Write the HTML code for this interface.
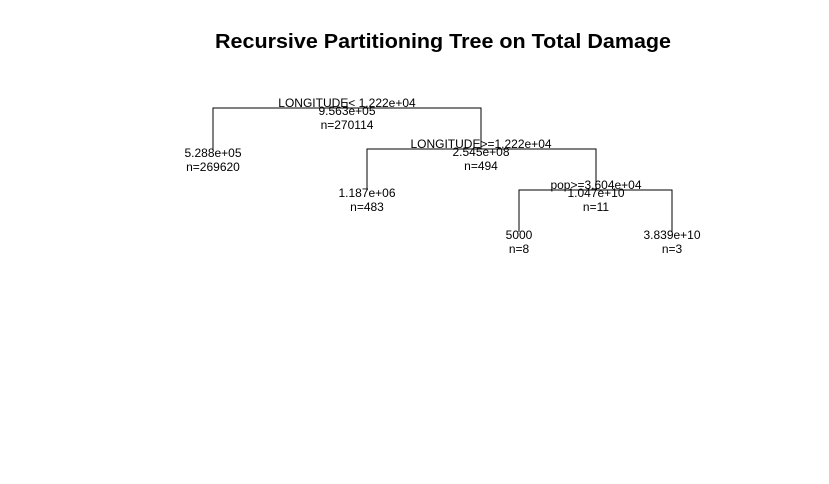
<!DOCTYPE html>
<html><head><meta charset="utf-8"><style>
html,body{margin:0;padding:0;background:#fff;}
svg{display:block;font-family:"Liberation Sans",Arial,sans-serif;}
</style></head><body>
<svg id="chart" width="829" height="484" viewBox="0 0 829 484">
<rect width="829" height="484" fill="#fff"/>
<text x="443" y="48" text-anchor="middle" font-size="20" font-weight="bold" textLength="456" lengthAdjust="spacingAndGlyphs">Recursive Partitioning Tree on Total Damage</text>
<g id="tree"></g>
</svg>
<script>
// node data: id, parent, value label, n, split label
const nodeIds = [1, 2, 3, 6, 7, 14, 15];
const nodeParents = [0, 1, 1, 3, 3, 7, 7];
const nodeValues = ["9.563e+05","5.288e+05","2.545e+08","1.187e+06","1.047e+10","5000","3.839e+10"];
const nodeCounts = [270114, 269620, 494, 483, 11, 8, 3];
const nodeSplits = ["LONGITUDE< 1.222e+04","","LONGITUDE>=1.222e+04","","pop>=3.604e+04","",""];
// layout
const nodeX = {1:347, 2:213, 3:481, 6:367, 7:596, 14:519, 15:672};
const nodeY = {1:108, 2:150, 3:149, 6:190, 7:190, 14:232, 15:232};
const g = document.getElementById('tree');
const NS = 'http://www.w3.org/2000/svg';
function mk(tag, attrs){const e=document.createElementNS(NS,tag);for(const k in attrs)e.setAttribute(k,attrs[k]);g.appendChild(e);return e;}
nodeIds.forEach((id,i)=>{
  const x=nodeX[id], y=nodeY[id];
  const kids = nodeIds.filter((c,j)=>nodeParents[j]===id);
  if(kids.length){
    const l=nodeX[kids[0]], r=nodeX[kids[1]];
    const ln=mk('polyline',{points:`${l},${nodeY[kids[0]]} ${l},${y} ${r},${y} ${r},${nodeY[kids[1]]}`,fill:'none',stroke:'#000','stroke-width':1});
    
    
    if(id===1){const t=mk('line',{x1:x,y1:y-6,x2:x,y2:y,stroke:'#000'});}
    const s=mk('text',{x:x,y:y-1,'text-anchor':'middle','font-size':12});
    s.textContent=nodeSplits[i];
    
    
  }
  const v=mk('text',{x:x,y:y+7,'text-anchor':'middle','font-size':12});
  v.textContent=nodeValues[i];
  
  
  const n=mk('text',{x:x,y:y+21,'text-anchor':'middle','font-size':12});
  n.textContent='n='+nodeCounts[i];
  
  
});
</script>
</body></html>
